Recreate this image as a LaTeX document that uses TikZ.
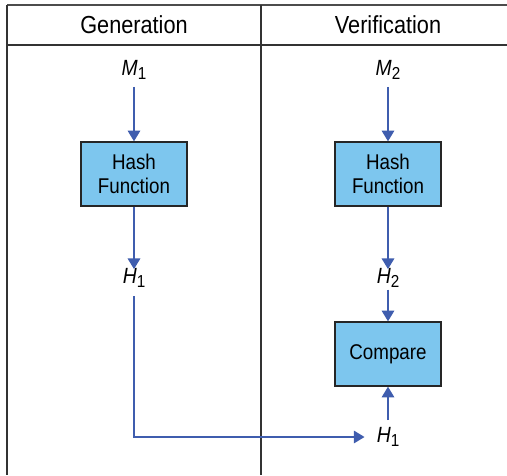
\documentclass[tikz,border=0pt]{standalone}
\usepackage{fontspec}
\setmainfont{Liberation Sans}[FakeStretch=0.88]
\usetikzlibrary{arrows.meta}
\definecolor{boxblue}{HTML}{7DC6EE}
\definecolor{arrblue}{HTML}{3F5DAE}
\definecolor{rulegray}{HTML}{333333}
\newcommand\lbl[2]{\textit{#1}\raisebox{-0.35ex}{\fontsize{13pt}{14pt}\selectfont #2}}
\begin{document}
\begin{tikzpicture}[x=0.75pt,y=-0.75pt,
  rulel/.style={draw=rulegray,line width=1.1pt},
  hdr/.style={font=\fontsize{18.5pt}{20pt}\selectfont,inner sep=0pt},
  lab/.style={font=\fontsize{16.5pt}{18pt}\selectfont,inner sep=0pt,minimum height=15pt},
  procbox/.style={draw=black!85,line width=1.1pt,fill=boxblue,minimum width=79.5pt,minimum height=48pt,align=center,font=\fontsize{16pt}{18.5pt}\selectfont,inner sep=0pt},
  arr/.style={draw=arrblue,line width=0.9pt,-{Triangle[width=9.5pt,length=8pt]}}]
\useasboundingbox (0,0) rectangle (507,475);
% table rules
\draw[rulel,draw=black!70,line width=1.6pt] (7,5) -- (507,5);
\draw[rulel] (7,45) -- (507,45);
\draw[rulel] (7,5) -- (7,475);
\draw[rulel] (261,5) -- (261,475);
% headers
\node[hdr] (hgen) at (134,25) {Generation};
\node[hdr] (hver) at (388,25) {Verification};
% left column
\node[lab] (m1) at (134,70) {\lbl{M}{1}};
\node[procbox] (hash1) at (134,174) {Hash\\Function};
\node[lab] (h1) at (134,278) {\lbl{H}{1}};
% right column
\node[lab] (m2) at (388,70) {\lbl{M}{2}};
\node[procbox] (hash2) at (388,174) {Hash\\Function};
\node[lab] (h2) at (388,278) {\lbl{H}{2}};
\node[procbox] (cmp) at (388,354) {Compare};
\node[lab] (h1b) at (388,437) {\lbl{H}{1}};
\coordinate (bend) at (134,437);
% arrows
\draw[arr,shorten <=5pt] (m1.south) -- (hash1.north);
\draw[arr] (hash1.south) -- ([yshift=-1pt]h1.north);
\draw[arr,shorten <=5pt] (m2.south) -- (hash2.north);
\draw[arr] (hash2.south) -- ([yshift=-1pt]h2.north);
\draw[arr,shorten <=1pt] (h2.south) -- (cmp.north);
\draw[arr,shorten <=5pt] (h1b.north) -- (cmp.south);
\draw[arr,shorten <=6pt,shorten >=9pt] (h1.south) -- (bend) -- (h1b.west);
\end{tikzpicture}
\end{document}
